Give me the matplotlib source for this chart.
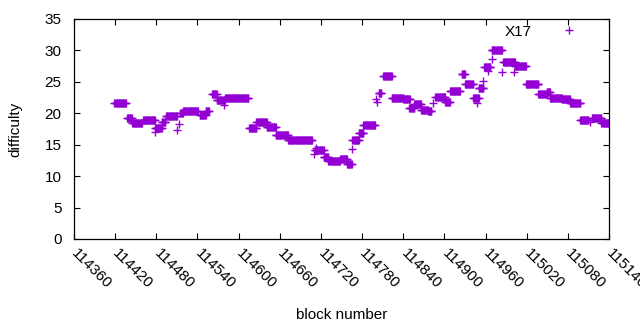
import matplotlib
matplotlib.use("Agg")
import matplotlib.pyplot as plt
import numpy as np

plt.rcParams['font.family'] = ['Liberation Sans', 'DejaVu Sans']

# runs of blocks with (about) the same difficulty: first block, last block, value
seg_start = [114419, 114437, 114445, 114461, 114478, 114478, 114488, 114494, 114510, 114513,
             114515, 114519, 114543, 114552, 114561, 114568, 114579, 114580, 114615, 114626,
             114641, 114654, 114672, 114710, 114713, 114711, 114724, 114731, 114748, 114758,
             114765, 114766, 114775, 114782, 114801, 114802, 114804, 114811, 114823, 114840,
             114849, 114856, 114866, 114876, 114884, 114887, 114901, 114908, 114925, 114930,
             114942, 114948, 114950, 114957, 114958, 114963, 114969, 114969, 114984, 114986,
             115002, 115003, 115019, 115037, 115049, 115054, 115071, 115083, 115098, 115112,
             115115, 115129]
seg_end = [114436, 114444, 114459, 114478, 114488, 114478, 114493, 114510, 114510, 114513,
           114519, 114541, 114552, 114557, 114568, 114580, 114579, 114614, 114626, 114641,
           114654, 114672, 114707, 114710, 114713, 114724, 114731, 114748, 114758, 114765,
           114765, 114775, 114782, 114799, 114801, 114802, 114808, 114823, 114840, 114850,
           114856, 114866, 114876, 114881, 114884, 114901, 114908, 114923, 114930, 114942,
           114950, 114948, 114957, 114957, 114967, 114963, 114969, 114984, 114984, 115003,
           115002, 115019, 115037, 115049, 115054, 115071, 115083, 115098, 115110, 115112,
           115129, 115139]
seg_val = [21.7, 19.3, 18.5, 18.9, 17.6, 17.1, 18.6, 19.5, 17.4, 18.3,
           20.0, 20.3, 19.7, 20.3, 23.0, 22.1, 21.3, 22.5, 17.6, 18.6,
           17.8, 16.5, 15.7, 13.5, 14.4, 14.2, 13.1, 12.4, 12.8, 11.9,
           14.3, 15.7, 16.8, 18.1, 22.3, 21.8, 23.2, 26.0, 22.4, 22.2,
           20.9, 21.5, 20.6, 20.3, 21.7, 22.6, 21.8, 23.5, 26.2, 24.6,
           22.4, 21.7, 24.1, 25.1, 27.4, 26.8, 28.7, 30.0, 26.5, 28.1,
           26.5, 27.6, 24.6, 23.0, 23.4, 22.4, 22.2, 21.6, 18.9, 18.6,
           19.3, 18.5]

xticks = np.arange(114360, 115141, 60)

blocks = np.concatenate([np.arange(s, e + 1) for s, e in zip(seg_start, seg_end)])
diff = np.concatenate([np.full(e - s + 1, v) for s, e, v in zip(seg_start, seg_end, seg_val)])

fig = plt.figure(figsize=(6.4, 3.3), dpi=100)
ax = fig.add_axes([74/640, 91/330, 535/640, 220/330])

ax.plot(blocks, diff, linestyle='none', marker='+', ms=5.5, mew=1.0,
        color='#9400d3', label='X17')

ax.set_xlim(114360, 115140)
ax.set_ylim(0, 35)
ax.set_yticks(np.arange(0, 36, 5))
ax.set_xticks(xticks)
ax.set_xticklabels([str(t) for t in xticks], rotation=-45, rotation_mode='anchor',
                   ha='left', va='center')
ax.tick_params(direction='in', length=4, width=0.8, top=True, right=True,
               labelsize=11, colors='black')
ax.tick_params(axis='y', pad=9)
ax.tick_params(axis='x', pad=9)
for sp in ax.spines.values():
    sp.set_linewidth(0.9)

ax.set_xlabel('block number', fontsize=11, labelpad=12)
ax.set_ylabel('difficulty', fontsize=11, labelpad=16)

ax.legend(loc='upper right', bbox_to_anchor=(0.97, 0.975), markerfirst=False,
          frameon=False, fontsize=11, handlelength=3.2, handletextpad=0.8,
          borderpad=0, borderaxespad=0)

fig.savefig('out.png', dpi=100)
